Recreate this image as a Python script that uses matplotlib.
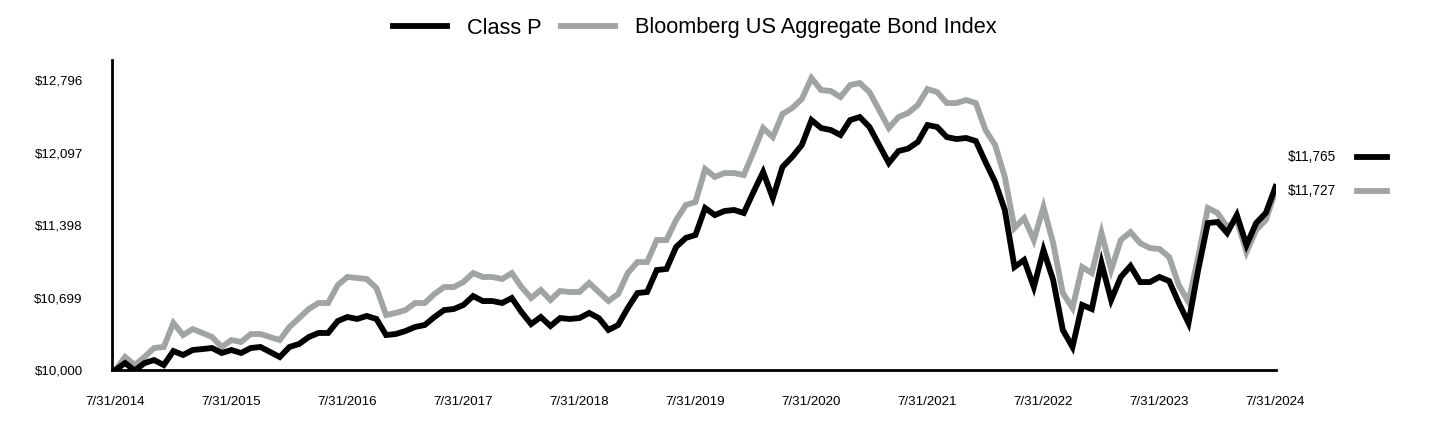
import matplotlib
matplotlib.use("Agg")
import matplotlib.pyplot as plt
from matplotlib.lines import Line2D

plt.rcParams["font.family"] = ["Liberation Sans", "DejaVu Sans"]

# month-end values of a $10,000 investment, 7/31/2014 .. 7/31/2024
class_p = [
    10000, 10067, 9995, 10067, 10096, 10048, 10183, 10145, 10193, 10202,
    10212, 10164, 10193, 10164, 10212, 10222, 10174, 10125, 10222, 10251,
    10318, 10357, 10357, 10472, 10511, 10492, 10521, 10492, 10337, 10347,
    10376, 10415, 10434, 10511, 10578, 10588, 10627, 10713, 10665, 10665,
    10646, 10694, 10559, 10443, 10511, 10424, 10501, 10492, 10501, 10550,
    10501, 10386, 10434, 10598, 10742, 10752, 10964, 10974, 11186, 11273,
    11302, 11562, 11494, 11533, 11543, 11514, 11716, 11909, 11658, 11957,
    12054, 12169, 12410, 12333, 12314, 12266, 12410, 12439, 12343, 12169,
    11996, 12111, 12135, 12198, 12362, 12343, 12246, 12227, 12237, 12208,
    12005, 11813, 11543, 10993, 11061, 10800, 11157, 10868, 10386, 10222,
    10627, 10588, 11032, 10675, 10897, 11003, 10848, 10848, 10897, 10858,
    10646, 10453, 10964, 11417, 11427, 11321, 11494, 11205, 11417, 11514,
    11765,
]
bloomberg = [
    10000, 10125, 10048, 10125, 10212, 10222, 10453, 10337, 10395, 10357,
    10318, 10222, 10289, 10270, 10347, 10347, 10318, 10289, 10415, 10501,
    10588, 10646, 10646, 10819, 10897, 10887, 10877, 10791, 10530, 10550,
    10578, 10646, 10646, 10733, 10800, 10800, 10848, 10935, 10897, 10897,
    10877, 10935, 10800, 10694, 10771, 10675, 10762, 10752, 10752, 10839,
    10752, 10665, 10733, 10935, 11041, 11041, 11253, 11253, 11446, 11591,
    11620, 11938, 11861, 11899, 11899, 11880, 12102, 12333, 12246, 12468,
    12526, 12613, 12815, 12699, 12690, 12632, 12748, 12767, 12680, 12507,
    12333, 12439, 12478, 12555, 12709, 12680, 12574, 12574, 12603, 12574,
    12314, 12169, 11861, 11369, 11465, 11253, 11571, 11224, 10742, 10598,
    10993, 10935, 11321, 10964, 11253, 11330, 11224, 11176, 11167, 11089,
    10819, 10656, 11089, 11562, 11514, 11379, 11446, 11138, 11350, 11446,
    11727,
]
yticks = [10000, 10699, 11398, 12097, 12796]
xlabels = ["7/31/2014", "7/31/2015", "7/31/2016", "7/31/2017", "7/31/2018",
           "7/31/2019", "7/31/2020", "7/31/2021", "7/31/2022", "7/31/2023",
           "7/31/2024"]

BLACK = "#000000"
GREY = "#a0a5a3"

fig = plt.figure(figsize=(14.4, 4.32), dpi=100)
ax = fig.add_axes([0.0778, 0.1435, 0.8083, 0.7176])

months = range(len(class_p))
ax.plot(months, bloomberg, color=GREY, lw=4.2, label="Bloomberg US Aggregate Bond Index",
        solid_joinstyle="miter", zorder=2)
ax.plot(months, class_p, color=BLACK, lw=4.2, label="Class P",
        solid_joinstyle="miter", zorder=3)

ax.set_xlim(-0.35, 120.05)
ax.set_ylim(10000, 12989)
ax.set_yticks(yticks)
ax.set_yticklabels(["${:,}".format(v) for v in yticks], fontsize=9.6)
ax.set_xticks(range(0, 121, 12))
ax.set_xticklabels(xlabels, fontsize=9.6)
ax.tick_params(axis="y", length=0, pad=21)
ax.tick_params(axis="x", length=0, pad=19)

for s in ["top", "right"]:
    ax.spines[s].set_visible(False)
for s in ["left", "bottom"]:
    ax.spines[s].set_linewidth(2)

handles, labels = ax.get_legend_handles_labels()
order = [1, 0]
fig.legend([handles[i] for i in order], [labels[i] for i in order],
           loc="center", bbox_to_anchor=(695 / 1440, 1 - 28 / 432), ncol=2,
           frameon=False, fontsize=15.7, handlelength=2.45, handletextpad=0.92,
           columnspacing=0.92)

# end values on the right
for val, col, yy in [(class_p[-1], BLACK, 157), (bloomberg[-1], GREY, 191)]:
    yf = 1 - yy / 432
    fig.text(1288 / 1440, yf, "${:,}".format(val), fontsize=9.8, va="center", ha="left")
    fig.add_artist(Line2D([1357 / 1440, 1387 / 1440], [yf, yf], color=col, lw=4.2,
                          transform=fig.transFigure))

fig.savefig("out.png", dpi=100)
